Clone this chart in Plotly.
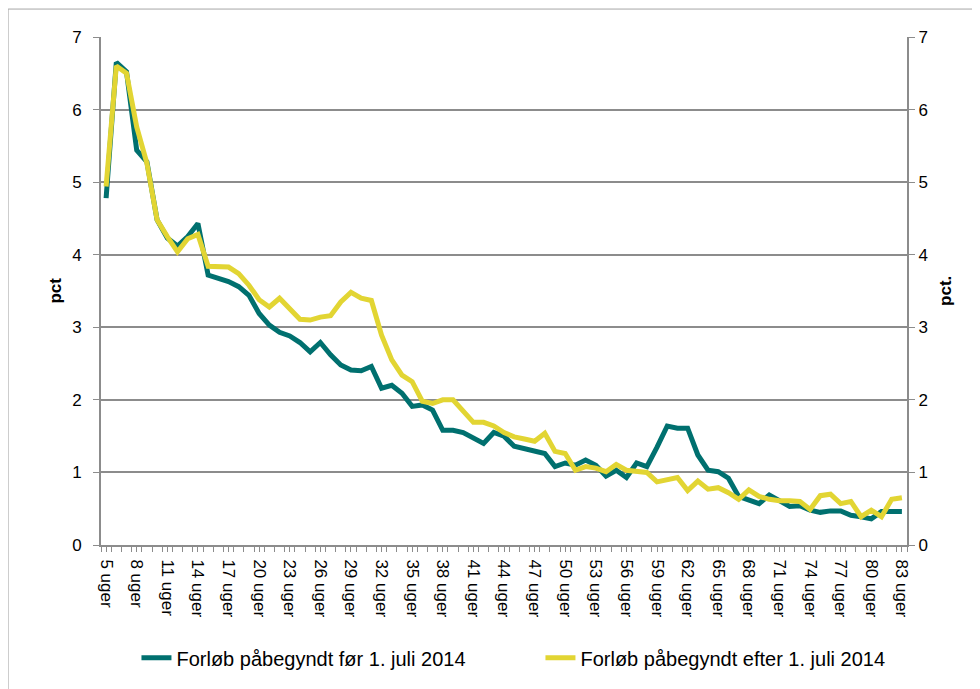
import plotly.graph_objects as go

weeks = list(range(5, 84))
tick_weeks = weeks[::3]
tick_labels = [f"{w} uger" for w in tick_weeks]

series_before_name = "Forløb påbegyndt før 1. juli 2014"
series_after_name = "Forløb påbegyndt efter 1. juli 2014"
y_title_left = "pct"
y_title_right = "pct."

before = [4.78, 6.65, 6.52, 5.44, 5.28, 4.48, 4.23, 4.12, 4.25, 4.43,
          3.72, 3.68, 3.63, 3.56, 3.44, 3.19, 3.03, 2.93, 2.88, 2.79,
          2.66, 2.79, 2.62, 2.48, 2.41, 2.40, 2.46, 2.16, 2.20, 2.09,
          1.91, 1.93, 1.86, 1.58, 1.58, 1.55, 1.48, 1.40, 1.55, 1.50,
          1.36, 1.33, 1.30, 1.26, 1.08, 1.13, 1.10, 1.17, 1.10, 0.95,
          1.03, 0.93, 1.13, 1.08, 1.35, 1.64, 1.61, 1.61, 1.24, 1.03,
          1.01, 0.92, 0.67, 0.62, 0.57, 0.69, 0.61, 0.53, 0.54, 0.48,
          0.45, 0.47, 0.47, 0.41, 0.39, 0.36, 0.46, 0.46, 0.46]

after = [4.94, 6.60, 6.50, 5.76, 5.26, 4.48, 4.25, 4.04, 4.22, 4.28,
         3.84, 3.84, 3.83, 3.74, 3.58, 3.38, 3.28, 3.40, 3.26, 3.11,
         3.10, 3.14, 3.16, 3.35, 3.48, 3.40, 3.37, 2.89, 2.55, 2.34,
         2.25, 1.98, 1.95, 2.00, 2.00, 1.85, 1.69, 1.69, 1.64, 1.55,
         1.49, 1.46, 1.43, 1.54, 1.29, 1.26, 1.03, 1.08, 1.06, 1.01,
         1.11, 1.03, 1.01, 1.00, 0.87, 0.90, 0.93, 0.75, 0.88, 0.77,
         0.79, 0.72, 0.63, 0.76, 0.67, 0.63, 0.61, 0.61, 0.60, 0.49,
         0.68, 0.70, 0.57, 0.60, 0.39, 0.48, 0.39, 0.63, 0.65]

TEAL = "#00706f"
YELLOW = "#e2d533"
GRID = "#8c8c8c"
FONT = "Arial, Liberation Sans, sans-serif"

fig = go.Figure()
fig.add_trace(go.Scatter(x=weeks, y=before, mode="lines", name=series_before_name,
                         line=dict(color=TEAL, width=5), yaxis="y"))
fig.add_trace(go.Scatter(x=weeks, y=after, mode="lines", name=series_after_name,
                         line=dict(color=YELLOW, width=5), yaxis="y2"))

# page body has an 8px default margin, so the figure is 972x681 drawn at (8, 8)
fig.update_layout(
    width=972, height=681,
    margin=dict(l=93, r=73, t=29, b=136),
    paper_bgcolor="white", plot_bgcolor="white",
    font=dict(family=FONT, size=17, color="black"),
    showlegend=True,
    legend=dict(orientation="h", x=0.044, xanchor="left", y=-0.222, yanchor="middle",
                font=dict(size=20), entrywidth=359),
    xaxis=dict(range=[4.5, 83.5], tickmode="array", tickvals=tick_weeks, ticktext=tick_labels,
               tickangle=90, showgrid=False, zeroline=False,
               showline=True, linecolor=GRID, linewidth=2,
               ticks="outside", ticklen=5, tickcolor=GRID, tickwidth=1,
               ticklabelstandoff=4,
               minor=dict(ticks="outside", ticklen=5, tickcolor=GRID, tick0=4.5, dtick=1),
               tickfont=dict(size=17)),
    yaxis=dict(range=[0, 7], dtick=1, showgrid=True, gridcolor=GRID, gridwidth=2,
               zeroline=False, showline=True, linecolor=GRID, linewidth=2,
               ticks="outside", ticklen=6, tickcolor=GRID, ticklabelstandoff=8,
               tickfont=dict(size=17)),
    yaxis2=dict(range=[0, 7], dtick=1, overlaying="y", side="right", showgrid=False,
                zeroline=False, showline=True, linecolor=GRID, linewidth=2,
                ticks="outside", ticklen=6, tickcolor=GRID, ticklabelstandoff=0,
                tickfont=dict(size=17)),
    annotations=[
        dict(text=f"<b>{y_title_left}</b>", xref="paper", yref="paper", x=-0.0576, y=0.5,
             xanchor="center", yanchor="middle",
             textangle=-90, showarrow=False, font=dict(size=17)),
        dict(text=f"<b>{y_title_right}</b>", xref="paper", yref="paper", x=1.047, y=0.5,
             xanchor="center", yanchor="middle",
             textangle=-90, showarrow=False, font=dict(size=17)),
    ],
)

fig.add_shape(type="rect", xref="paper", yref="paper",
              x0=-0.1153, x1=1.0915, y0=-0.32, y1=1.055,
              line=dict(color="#a6a6a6", width=1), fillcolor="rgba(0,0,0,0)", layer="below")

fig.write_html("out.html")
